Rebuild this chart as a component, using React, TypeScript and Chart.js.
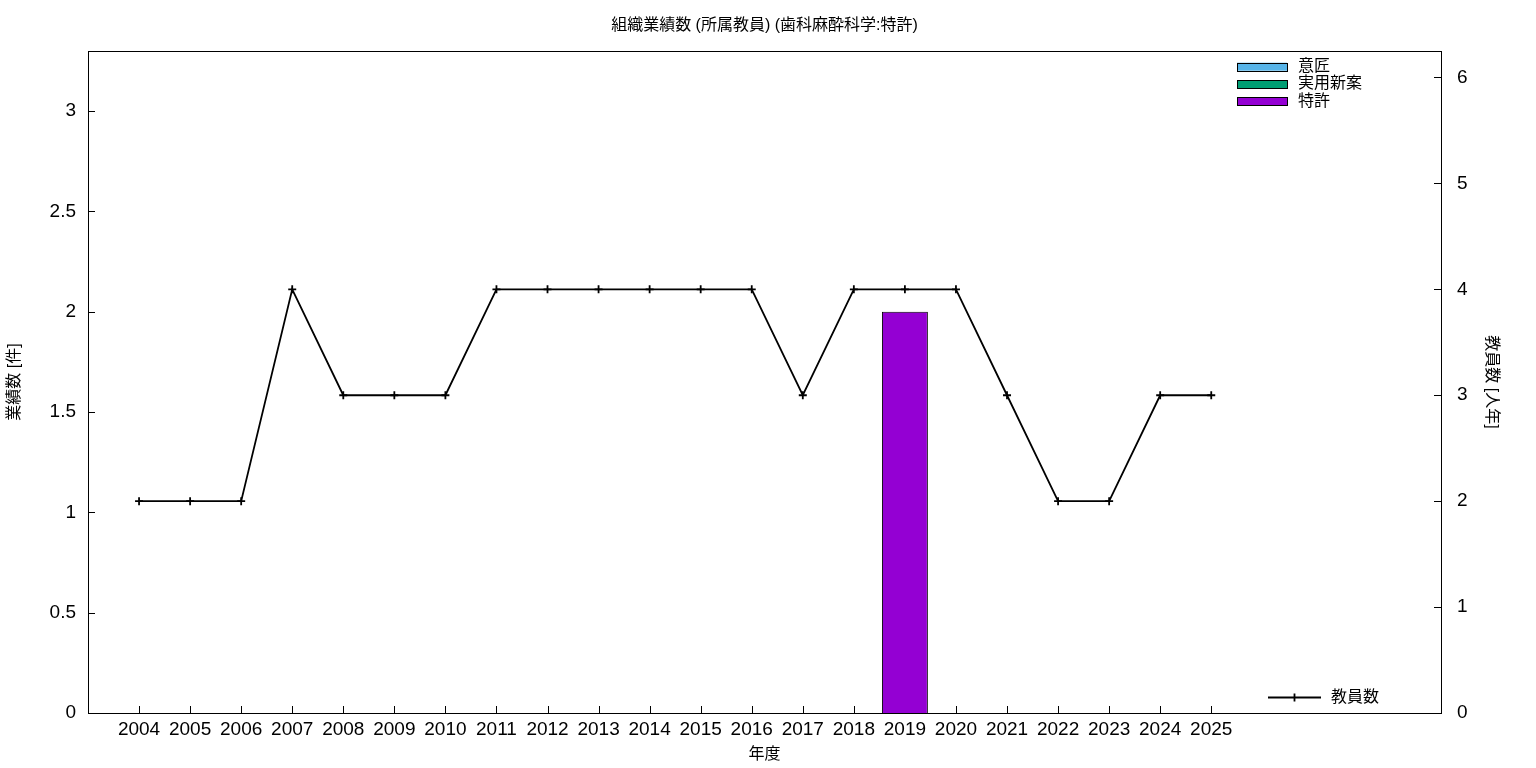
import React, { useEffect, useRef } from "react";
import { Chart, registerables } from "chart.js";

Chart.register(...registerables);

const years = [2004, 2005, 2006, 2007, 2008, 2009, 2010, 2011, 2012, 2013, 2014, 2015, 2016, 2017, 2018, 2019, 2020, 2021, 2022, 2023, 2024, 2025];
const designCounts = [0, 0, 0, 0, 0, 0, 0, 0, 0, 0, 0, 0, 0, 0, 0, 0, 0, 0, 0, 0, 0, 0];
const utilityCounts = [0, 0, 0, 0, 0, 0, 0, 0, 0, 0, 0, 0, 0, 0, 0, 0, 0, 0, 0, 0, 0, 0];
const patentCounts = [0, 0, 0, 0, 0, 0, 0, 0, 0, 0, 0, 0, 0, 0, 0, 2, 0, 0, 0, 0, 0, 0];
const facultyCounts = [2, 2, 2, 4, 3, 3, 3, 4, 4, 4, 4, 4, 4, 3, 4, 4, 4, 3, 2, 2, 3, 3];
const leftTicks = [0, 0.5, 1, 1.5, 2, 2.5, 3];
const rightTicks = [0, 1, 2, 3, 4, 5, 6];

const chartTitle = "組織業績数 (所属教員) (歯科麻酔科学:特許)";
const barLabels = ["意匠", "実用新案", "特許"];
const barColors = ["#56b4e9", "#009e73", "#9400d3"];
const lineLabel = "教員数";

const FONT = "'Liberation Sans', 'Noto Sans CJK JP', sans-serif";

const decorPlugin = {
  id: "decor",
  beforeDatasetsDraw(chart: any) {
    const { ctx, chartArea } = chart;
    const { left, right, top, bottom } = chartArea;
    ctx.save();
    ctx.strokeStyle = "#000";
    ctx.lineWidth = 1;
    ctx.beginPath();
    const tl = 7;
    chart.scales.x.ticks.forEach((t: any) => {
      const px = Math.round(chart.scales.x.getPixelForValue(t.value)) + 0.5;
      ctx.moveTo(px, bottom);
      ctx.lineTo(px, bottom - tl);
    });
    chart.scales.y.ticks.forEach((t: any) => {
      const py = Math.round(chart.scales.y.getPixelForValue(t.value)) + 0.5;
      ctx.moveTo(left, py);
      ctx.lineTo(left + tl, py);
    });
    chart.scales.y1.ticks.forEach((t: any) => {
      const py = Math.round(chart.scales.y1.getPixelForValue(t.value)) + 0.5;
      ctx.moveTo(right, py);
      ctx.lineTo(right - tl, py);
    });
    ctx.stroke();
    ctx.strokeRect(Math.round(left) + 0.5, Math.round(top) + 0.5, Math.round(right - left), Math.round(bottom - top));
    ctx.restore();
  },
  afterDraw(chart: any) {
    const { ctx, chartArea } = chart;
    ctx.save();
    ctx.fillStyle = "#000";
    ctx.font = `16px ${FONT}`;
    ctx.textAlign = "center";
    ctx.textBaseline = "middle";
    ctx.fillText(chartTitle, (chartArea.left + chartArea.right) / 2, 26);

    // bar legend (top right)
    ctx.textAlign = "left";
    const ds = chart.data.datasets;
    let row = 0;
    ds.forEach((d: any) => {
      if (d.type !== "bar") return;
      const cy = 66.7 + row * 17.3;
      ctx.fillStyle = d.backgroundColor;
      ctx.fillRect(1237, cy - 4, 50, 8);
      ctx.strokeStyle = "#000";
      ctx.lineWidth = 1;
      ctx.strokeRect(1237.5, Math.round(cy - 4) + 0.5, 50, 8);
      ctx.fillStyle = "#000";
      ctx.fillText(d.label, 1298, cy);
      row++;
    });

    // line legend (bottom right)
    const line = ds.find((d: any) => d.type === "line");
    if (line) {
      const ly = 697.5;
      ctx.strokeStyle = line.borderColor;
      ctx.lineWidth = 1.8;
      ctx.beginPath();
      ctx.moveTo(1268, ly);
      ctx.lineTo(1321, ly);
      ctx.moveTo(1294.5, ly - 4);
      ctx.lineTo(1294.5, ly + 4);
      ctx.stroke();
      ctx.fillStyle = "#000";
      ctx.fillText(line.label, 1331, ly);
    }
    ctx.restore();
  },
};

export default function App() {
  const ref = useRef<HTMLCanvasElement | null>(null);
  useEffect(() => {
    if (!ref.current) return;
    const toXY = (arr: number[]) => arr.map((v, i) => ({ x: years[i], y: v }));
    const tickFont = { family: FONT, size: 19 };
    const titleFont = { family: FONT, size: 16 };
    const chart = new Chart(ref.current, {
      type: "bar",
      data: {
        datasets: [
          ...barLabels.map((label, i) => ({
            type: "bar" as const,
            label,
            data: toXY([designCounts, utilityCounts, patentCounts][i]),
            backgroundColor: barColors[i],
            borderColor: "#000",
            borderWidth: 1,
            borderSkipped: "bottom" as const,
            grouped: false,
            categoryPercentage: 1,
            barPercentage: 0.9,
            xAxisID: "x",
            yAxisID: "y",
            order: 2,
          })),
          {
            type: "line" as const,
            label: lineLabel,
            data: toXY(facultyCounts),
            borderColor: "#000",
            backgroundColor: "#000",
            borderWidth: 1.8,
            pointStyle: "cross",
            pointRadius: 4,
            pointBorderWidth: 1.8,
            pointBorderColor: "#000",
            tension: 0,
            fill: false,
            xAxisID: "x",
            yAxisID: "y1",
            order: 1,
          },
        ],
      } as any,
      options: {
        animation: false,
        responsive: false,
        devicePixelRatio: 1,
        layout: { padding: { top: 51, left: 0, right: 0, bottom: 0 } },
        plugins: {
          legend: { display: false },
          title: { display: false },
          tooltip: { enabled: false },
        },
        scales: {
          x: {
            type: "linear",
            position: "bottom",
            min: 2003,
            max: 2029.5,
            offset: false,
            grid: { display: false, drawTicks: false, offset: false },
            border: { display: false },
            afterBuildTicks: (s: any) => {
              s.ticks = years.map((v) => ({ value: v }));
            },
            afterFit: (s: any) => {
              s.height = 55;
            },
            ticks: {
              autoSkip: false,
              maxRotation: 0,
              minRotation: 0,
              padding: 5,
              color: "#000",
              font: tickFont,
              callback: (v: any) => String(v),
            },
            title: {
              display: true,
              text: "年度",
              color: "#000",
              font: titleFont,
              padding: { top: 0, bottom: 4 },
            },
          },
          y: {
            type: "linear",
            position: "left",
            min: 0,
            max: 3.3,
            grid: { display: false, drawTicks: false },
            border: { display: false },
            afterBuildTicks: (s: any) => {
              s.ticks = leftTicks.map((v) => ({ value: v }));
            },
            afterFit: (s: any) => {
              s.width = 88;
            },
            ticks: {
              padding: 12,
              color: "#000",
              font: tickFont,
              callback: (v: any) => String(v),
            },
            title: {
              display: true,
              text: "業績数 [件]",
              color: "#000",
              font: titleFont,
              padding: { top: 5, bottom: 0 },
            },
          },
          y1: {
            type: "linear",
            position: "right",
            min: 0,
            max: 6.25,
            grid: { display: false, drawTicks: false },
            border: { display: false },
            afterBuildTicks: (s: any) => {
              s.ticks = rightTicks.map((v) => ({ value: v }));
            },
            afterFit: (s: any) => {
              s.width = 95;
            },
            ticks: {
              padding: 16,
              color: "#000",
              font: tickFont,
              callback: (v: any) => String(v),
            },
            title: {
              display: true,
              text: "教員数 [人年]",
              color: "#000",
              font: titleFont,
              padding: { top: 35, bottom: 0 },
            },
          },
        },
      } as any,
      plugins: [decorPlugin],
    });
    return () => chart.destroy();
  }, []);
  return (
    <div style={{ position: "fixed", left: 0, top: 0, width: 1536, height: 768, background: "#fff" }}>
      <canvas ref={ref} width={1536} height={768} style={{ display: "block" }} />
    </div>
  );
}
